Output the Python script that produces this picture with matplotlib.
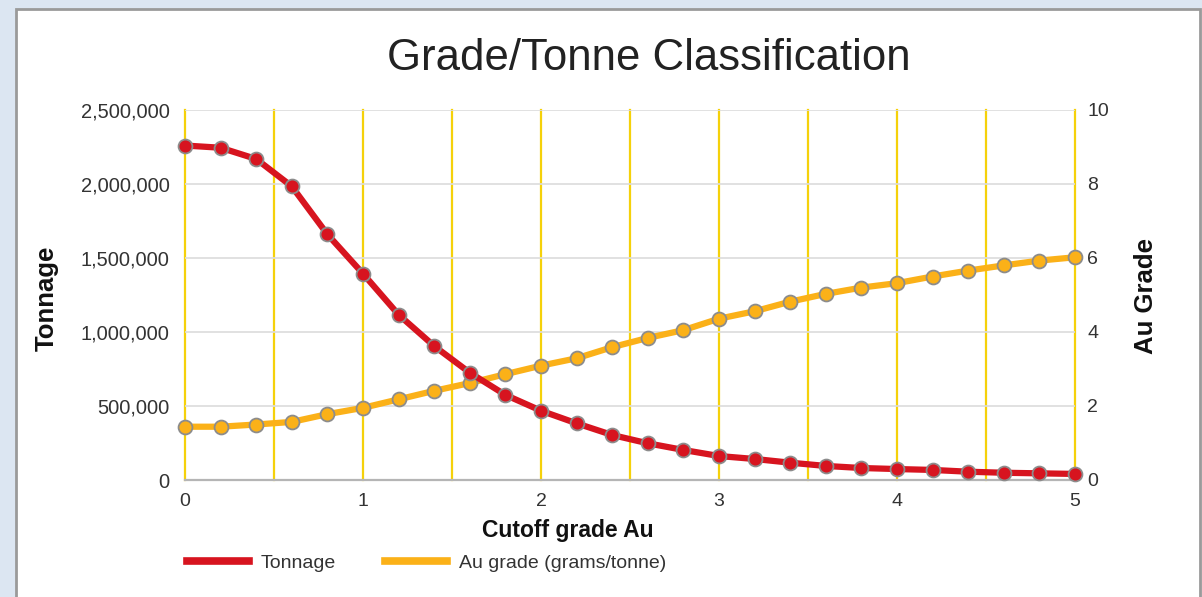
import matplotlib
matplotlib.use("Agg")
import matplotlib.pyplot as plt
from matplotlib.patches import Rectangle
from matplotlib.lines import Line2D
from matplotlib.ticker import FuncFormatter, MultipleLocator

# ---- data ----
cutoff = [0.0, 0.2, 0.4, 0.6, 0.8, 1.0, 1.2, 1.4, 1.6, 1.8, 2.0, 2.2, 2.4,
          2.6, 2.8, 3.0, 3.2, 3.4, 3.6, 3.8, 4.0, 4.2, 4.4, 4.6, 4.8, 5.0]
tonnage = [2260000, 2245000, 2169000, 1984000, 1660000, 1394000, 1117000,
           905000, 725000, 575000, 468000, 383000, 304000, 248000, 203000,
           162000, 142000, 117000, 95000, 81000, 74000, 68000, 56000, 49000,
           45000, 41000]
au_grade = [1.44, 1.44, 1.50, 1.57, 1.78, 1.95, 2.18, 2.41, 2.62, 2.86, 3.09,
            3.29, 3.59, 3.84, 4.05, 4.36, 4.56, 4.82, 5.03, 5.20, 5.32, 5.50,
            5.66, 5.80, 5.93, 6.02]
right_ticks = [0, 2, 4, 6, 8, 10]
title = "Grade/Tonne Classification"
xlabel = "Cutoff grade Au"
ylabel_left = "Tonnage"
ylabel_right = "Au Grade"
legend_labels = ["Tonnage", "Au grade (grams/tonne)"]

RED = "#d7141f"
ORANGE = "#fbb118"
GRIDY = "#f5d10a"
TXT = "#333333"

plt.rcParams["font.family"] = ["Liberation Sans", "DejaVu Sans"]

W, H = 1202, 597
fig = plt.figure(figsize=(W / 100, H / 100), dpi=100)
fig.patch.set_facecolor("#dce6f2")

# white panel with gray border (behind everything)
fig.patches.append(Rectangle((15.5 / W, -0.05), (1199.5 - 15.5) / W, 1 - 8.5 / H + 0.05,
                             transform=fig.transFigure, facecolor="white",
                             edgecolor="#9a9a9a", linewidth=2.0, zorder=-5))

left, right, top, bottom = 185 / W, 1075 / W, 1 - 110 / H, 1 - 480 / H
ax = fig.add_axes([left, bottom, right - left, top - bottom])
ax2 = ax.twinx()
ax.set_zorder(ax2.get_zorder() + 1)
ax.patch.set_visible(False)
ax2.patch.set_visible(False)

ax.set_xlim(0, 5)
ax.set_ylim(0, 2500000)
ax2.set_ylim(0, 10)

# shared x ticker: labels every 1, gridlines every 0.5 (minor)
ax.xaxis.set_major_locator(MultipleLocator(1))
ax.xaxis.set_minor_locator(MultipleLocator(0.5))
ax.yaxis.set_major_locator(MultipleLocator(500000))
ax.yaxis.set_major_formatter(FuncFormatter(lambda v, p: f"{int(v):,}"))

# grid on the lower (twin) axis so that the red series sits above everything
ax2.xaxis.set_visible(True)
ax2.tick_params(axis="x", which="both", length=0, labelbottom=False, labeltop=False,
                bottom=False, top=False)
ax2.set_yticks(right_ticks)
ax2.set_yticklabels([str(v) for v in right_ticks])
ax2.grid(axis="x", which="both", color=GRIDY, linewidth=1.6, zorder=0, clip_on=False)
ax2.grid(axis="y", which="major", color="#dcdcdc", linewidth=1.2, zorder=0)
ax2.set_axisbelow(True)

mk = dict(marker="o", markersize=10, markeredgecolor="#8c8c8c", markeredgewidth=1.3,
          linewidth=4.5, solid_capstyle="round", solid_joinstyle="round")
ax2.plot(cutoff, au_grade, color=ORANGE, markerfacecolor=ORANGE, clip_on=False, zorder=3, **mk)
ax.plot(cutoff, tonnage, color=RED, markerfacecolor=RED, clip_on=False, zorder=3, **mk)

for a in (ax, ax2):
    for s in a.spines.values():
        s.set_visible(False)
ax.spines["bottom"].set_visible(True)
ax.spines["bottom"].set_color("#b5b5b5")
ax.spines["bottom"].set_linewidth(1.6)

ax.tick_params(axis="x", which="both", length=0, pad=9, labelsize=14, labelcolor=TXT)
ax.tick_params(axis="y", length=0, pad=11, labelsize=14.5, labelcolor=TXT)
ax2.tick_params(axis="y", length=0, pad=9, labelsize=14, labelcolor=TXT)

lab = dict(fontweight="bold", color="#111111")
ax.set_xlabel(xlabel, fontsize=16.5, **lab)
ax.xaxis.set_label_coords((568 - 185) / 890, (480 - 531) / 370)
ax.xaxis.label.set_va("center")
ax.set_ylabel(ylabel_left, fontsize=18.5, **lab)
ax.yaxis.set_label_coords((47 - 185) / 890, (480 - 298) / 370)
ax.yaxis.label.set_va("center")
ax2.set_ylabel(ylabel_right, fontsize=18.5, **lab)
ax2.yaxis.set_label_coords((1146 - 185) / 890, (480 - 296) / 370)
ax2.yaxis.label.set_va("center")

fig.text(648.5 / W, 1 - 70 / H, title, ha="center", va="baseline",
         fontsize=31.5, color="#222222")

handles = [Line2D([], [], color=RED, linewidth=5.5),
           Line2D([], [], color=ORANGE, linewidth=5.5)]
leg = fig.legend(handles, legend_labels, loc="center left",
                 bbox_to_anchor=(187 / W, 1 - 563 / H), ncol=2, frameon=False,
                 fontsize=14, handlelength=3.2, handletextpad=0.6,
                 columnspacing=2.5, borderpad=0, borderaxespad=0)
for t in leg.get_texts():
    t.set_color(TXT)

fig.savefig("out.png", dpi=100, facecolor=fig.get_facecolor())
